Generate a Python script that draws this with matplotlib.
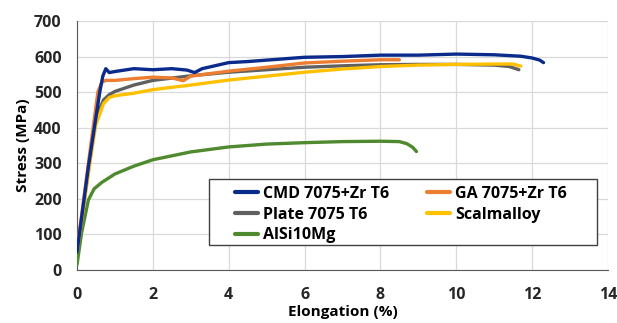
import matplotlib.pyplot as plt
from matplotlib.patches import Rectangle
import numpy as np

plt.rcParams['font.family'] = ['Open Sans', 'DejaVu Sans']
plt.rcParams['font.weight'] = 'bold'

# stress-strain curves
cmd_x = [0, 0.3, 0.6, 0.68, 0.76, 0.85, 1.0, 1.5, 2.0, 2.5, 2.9, 3.1, 3.3, 4.0, 4.5, 5.0, 6.0, 7.0, 8.0, 9.0, 10.0, 11.0, 11.7, 12.0, 12.2, 12.3]
cmd_y = [50, 290, 500, 545, 566, 555, 558, 566, 563, 566, 562, 555, 566, 583, 586, 590, 598, 600, 604, 604, 607, 605, 601, 596, 590, 583]

ga_x = [0, 0.3, 0.55, 0.65, 0.75, 1.0, 1.5, 2.0, 2.5, 2.8, 3.0, 4.0, 5.0, 6.0, 7.0, 8.0, 8.5]
ga_y = [55, 300, 500, 527, 533, 533, 538, 542, 540, 532, 545, 559, 570, 582, 587, 591, 591]

plate_x = [0, 0.3, 0.5, 0.7, 0.85, 1.0, 1.5, 2.0, 3.0, 4.0, 5.0, 6.0, 7.0, 8.0, 9.0, 10.0, 11.0, 11.4, 11.65]
plate_y = [50, 280, 430, 478, 493, 502, 520, 533, 546, 556, 563, 570, 574, 577, 578, 578, 576, 572, 563]

scal_x = [0, 0.39, 0.5, 0.7, 0.85, 1.0, 1.5, 2.0, 3.0, 4.0, 5.0, 6.0, 7.0, 8.0, 9.0, 10.0, 11.0, 11.5, 11.7]
scal_y = [50, 337, 410, 468, 485, 490, 497, 507, 520, 534, 545, 556, 565, 572, 576, 578, 579, 579, 573]

alsi_x = [0, 0.12, 0.3, 0.45, 0.65, 1.0, 1.5, 2.0, 3.0, 4.0, 5.0, 6.0, 7.0, 8.0, 8.5, 8.7, 8.85, 8.95]
alsi_y = [15, 104, 197, 228, 246, 270, 292, 310, 332, 346, 354, 358, 361, 362, 361, 355, 345, 333]

labels = ['CMD 7075+Zr T6', 'GA 7075+Zr T6', 'Plate 7075 T6', 'Scalmalloy', 'AlSi10Mg']
colors = ['#0A2A8C', '#ED7D31', '#606060', '#FFC000', '#4F8A2E']

fig = plt.figure(figsize=(6.17, 3.23), dpi=100)
ax = fig.add_axes([0.1248, 0.164, 0.8606, 0.771])

series = [(cmd_x, cmd_y), (ga_x, ga_y), (plate_x, plate_y), (scal_x, scal_y), (alsi_x, alsi_y)]
order = [4, 2, 3, 1, 0]
lines = {}
for i in order:
    x, y = series[i]
    ln, = ax.plot(x, y, color=colors[i], lw=2.4, solid_capstyle='round', label=labels[i], zorder=3)
    lines[i] = ln

ax.set_xlim(0, 14)
ax.set_ylim(0, 700)
ax.set_xticks(np.arange(0, 15, 2))
ax.set_yticks(np.arange(0, 701, 100))
ax.grid(True, color='#d9d9d9', lw=0.9)
ax.set_axisbelow(True)
ax.spines[['right', 'top']].set_visible(False)
ax.spines['left'].set_color('#595959')
ax.spines['bottom'].set_color('#595959')
ax.tick_params(length=0, labelsize=11.5, colors='#262626')
ax.tick_params(axis='y', pad=11)
ax.tick_params(axis='x', pad=12)
for t in ax.get_xticklabels() + ax.get_yticklabels():
    t.set_fontweight('bold')
ax.set_xlabel('Elongation (%)', fontsize=11, fontweight='bold', labelpad=2)
ax.set_ylabel('Stress (MPa)', fontsize=11, fontweight='bold', labelpad=3)

# legend box drawn by hand, entries laid out row by row
ax.add_patch(Rectangle((0.249, 0.100), 0.730, 0.265, transform=ax.transAxes,
                       facecolor='white', edgecolor='#404040', lw=1.0, zorder=4))
col_major = [0, 2, 4, 1, 3]
handles = [lines[i] for i in col_major]
leg = ax.legend(handles, [labels[i] for i in col_major], loc='upper left',
                bbox_to_anchor=(0.297, 0.338), ncol=2, frameon=False,
                prop={'weight': 'bold', 'size': 11.5}, handlelength=1.45, handletextpad=0.3,
                borderaxespad=0, borderpad=0, labelspacing=0.3, columnspacing=2.4)
leg.set_zorder(5)
for h in leg.legend_handles:
    h.set_linewidth(3)

fig.savefig('out.png', dpi=100)
